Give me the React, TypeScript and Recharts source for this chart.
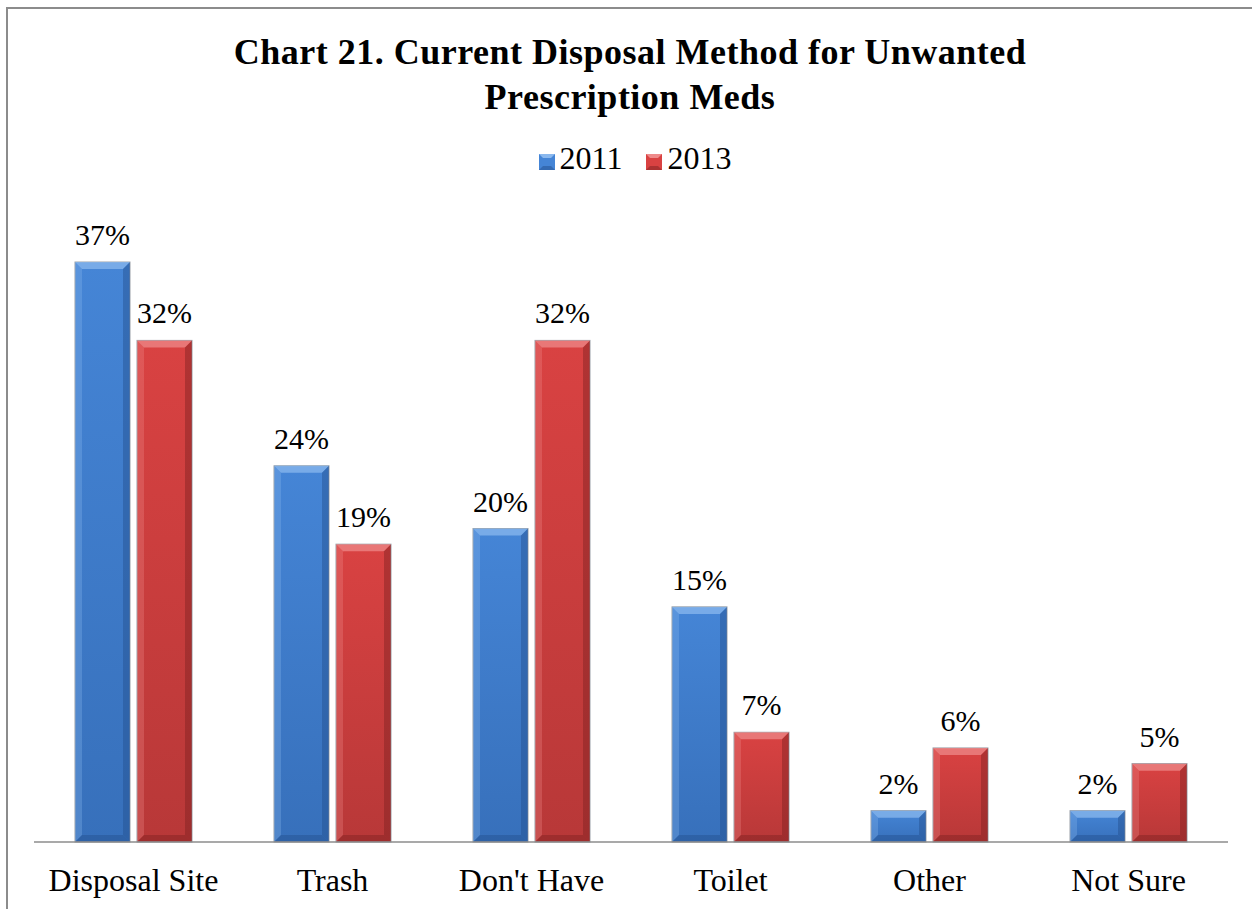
import { Bar, BarChart, LabelList, XAxis, YAxis } from "recharts";

const categories = ["Disposal Site", "Trash", "Don't Have", "Toilet", "Other", "Not Sure"];
const values2011 = [37, 24, 20, 15, 2, 2];
const values2013 = [32, 19, 32, 7, 6, 5];

const data = categories.map((name, i) => ({
  name,
  y2011: values2011[i],
  y2013: values2013[i],
}));

const FONT = "'Liberation Serif', 'Times New Roman', serif";
const INK = "#000";

type Shade = { top: string; bottom: string; light: string; dark: string };
const BLUE: Shade = { top: "#4585d6", bottom: "#3770bb", light: "#8ab8ee", dark: "#24508e" };
const RED: Shade = { top: "#d94242", bottom: "#b83838", light: "#ee8a8a", dark: "#7e2222" };

function bevelShape(shade: Shade, id: string) {
  return (props: any) => {
    const { x, y, width: w, height: h } = props;
    if (!h || h <= 0) return <g />;
    const b = Math.min(7, h / 3);
    return (
      <g>
        <defs>
          <linearGradient id={id} x1="0" y1="0" x2="0" y2="1">
            <stop offset="0%" stopColor={shade.top} />
            <stop offset="100%" stopColor={shade.bottom} />
          </linearGradient>
        </defs>
        <rect x={x} y={y} width={w} height={h} fill={`url(#${id})`} stroke="#9aa0a8" strokeWidth={1} />
        <polygon points={`${x},${y} ${x + w},${y} ${x + w - b},${y + b} ${x + b},${y + b}`} fill={shade.light} opacity={0.75} />
        <polygon points={`${x},${y} ${x + b},${y + b} ${x + b},${y + h - b} ${x},${y + h}`} fill={shade.light} opacity={0.3} />
        <polygon points={`${x + w},${y} ${x + w},${y + h} ${x + w - b},${y + h - b} ${x + w - b},${y + b}`} fill={shade.dark} opacity={0.45} />
        <polygon points={`${x},${y + h} ${x + w},${y + h} ${x + w - b},${y + h - b} ${x + b},${y + h - b}`} fill={shade.dark} opacity={0.45} />
      </g>
    );
  };
}

function LegendIcon({ shade }: { shade: Shade }) {
  return (
    <svg width={16} height={16} style={{ marginRight: 5, marginTop: 8 }}>
      <rect x={0} y={0} width={16} height={16} fill={shade.top} />
      <polygon points="0,0 16,0 12,4 4,4" fill={shade.light} />
      <polygon points="0,16 16,16 12,12 4,12" fill={shade.dark} opacity={0.5} />
    </svg>
  );
}

export default function App() {
  return (
    <div style={{ position: "absolute", left: 0, top: 0, width: 1252, height: 909, background: "#fff", fontFamily: FONT, overflow: "hidden" }}>
      <div style={{ position: "absolute", left: 6, top: 7, width: 1260, height: 920, border: "2px solid #8c8c8c", boxSizing: "border-box" }} />
      <div style={{ position: "absolute", left: 0, top: 30, width: 1260, textAlign: "center", fontWeight: 700, fontSize: 36, letterSpacing: 0.5, lineHeight: "45px", color: INK }}>
        Chart 21. Current Disposal Method for Unwanted
        <br />
        Prescription Meds
      </div>
      <div style={{ position: "absolute", left: 0, top: 138, width: 1270, display: "flex", justifyContent: "center", alignItems: "center", fontSize: 32, lineHeight: "40px", color: INK }}>
        <LegendIcon shade={BLUE} />
        <span style={{ marginRight: 24 }}>2011</span>
        <LegendIcon shade={RED} />
        <span>2013</span>
      </div>
      <div style={{ position: "absolute", left: 0, top: 0 }}>
        <BarChart
          width={1252}
          height={909}
          data={data}
          margin={{ top: 215, right: 24, left: 34, bottom: 17 }}
          barSize={55}
          barGap={7}
        >
          <XAxis
            dataKey="name"
            height={50}
            tickLine={false}
            axisLine={{ stroke: "#8c8c8c", strokeWidth: 1.5 }}
            tick={{ fill: INK, fontSize: 32, fontFamily: FONT }}
            tickMargin={20}
            interval={0}
          />
          <YAxis hide domain={[0, 40]} />
          <Bar dataKey="y2011" isAnimationActive={false} shape={bevelShape(BLUE, "g2011")}>
            <LabelList dataKey="y2011" position="top" offset={17} formatter={(v: any) => `${v}%`} fill={INK} fontSize={30} fontFamily={FONT} />
          </Bar>
          <Bar dataKey="y2013" isAnimationActive={false} shape={bevelShape(RED, "g2013")}>
            <LabelList dataKey="y2013" position="top" offset={17} formatter={(v: any) => `${v}%`} fill={INK} fontSize={30} fontFamily={FONT} />
          </Bar>
        </BarChart>
      </div>
    </div>
  );
}
